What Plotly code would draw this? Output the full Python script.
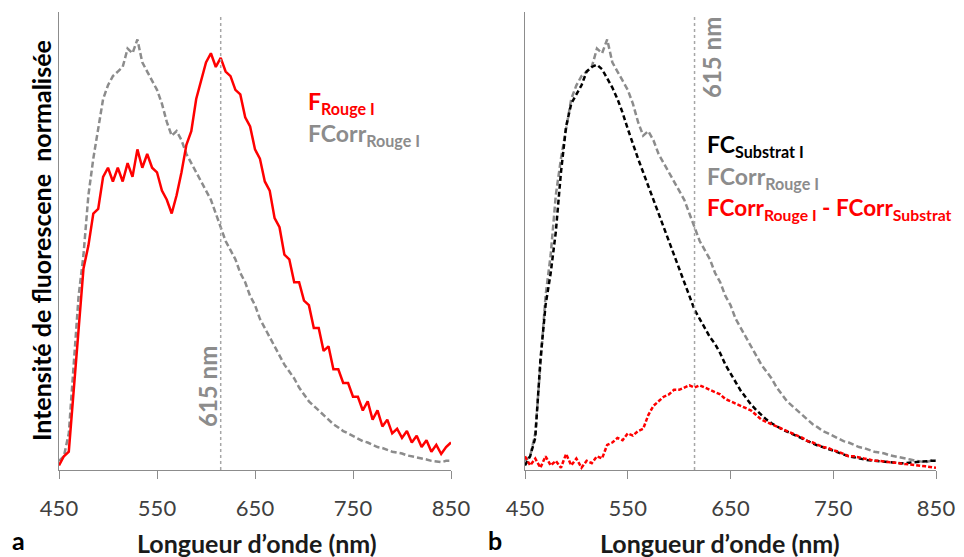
import plotly.graph_objects as go
from plotly.subplots import make_subplots

# ---------------- data ----------------
WAVELENGTH = list(range(450, 851, 5))  # nm

# Panel a
F_ROUGE_I = [1, 3, 4, 17, 31, 44, 49, 56, 57, 64, 66, 63, 66, 63, 67, 64, 70, 66, 69, 66,
             65, 61, 59, 56, 60, 65, 71, 74, 81, 85, 89, 91, 88, 90, 87, 86, 83, 82, 77, 75,
             70, 68, 63, 61, 55, 53, 47, 46, 41, 41, 37, 36, 31, 31, 26, 27, 22, 22, 19, 19,
             16, 16, 13, 15, 11, 13, 9.5, 11, 8, 9, 7, 8.5, 6, 7.5, 5, 6.5, 4, 5.5, 3.5, 5, 6]

FCORR_ROUGE_I = [2, 3, 8, 22, 38, 47, 60, 68, 75, 81, 84, 86, 87, 88, 92, 91, 94, 89, 87, 85,
                 83, 80, 76, 73, 74, 72, 69, 67, 65, 63, 61, 59, 56, 53, 50, 48, 46, 43, 41, 38,
                 36, 33, 31, 29, 27, 25, 23, 21.5, 20, 18, 16.5, 15, 14, 13, 12, 11, 10, 9.3, 8.5, 8,
                 7.4, 6.8, 6.3, 6, 5.5, 5, 4.8, 4.4, 4, 3.8, 3.6, 3.2, 3, 2.8, 2.6, 2.3, 2, 1.9, 1.7, 2, 2]

# Panel b
FC_SUBSTRAT_I = [1, 3, 7, 24, 36, 43, 52, 65, 75, 80, 82, 84, 87, 88, 88.5, 87.5, 85.5, 83.5, 81, 78,
                 74.5, 71, 68, 65, 62, 59, 56, 53, 50, 47, 44, 41, 38, 35, 33, 31, 29, 27.5, 25.5, 23,
                 21, 19, 17.3, 15.8, 14.3, 13.1, 12, 11, 10.2, 9.5, 8.9, 8.4, 7.9, 7.4, 6.9, 6.3, 5.8, 5.3, 5, 4.6,
                 4.2, 3.8, 3.4, 3, 2.8, 2.5, 2.3, 2.1, 2, 1.8, 1.7, 1.6, 1.5, 1.5, 1.5, 1.6, 1.8, 1.8, 2, 2, 2]

DIFF_ROUGE_SUBSTRAT = [3, 1, 2.5, 0.5, 3, 1, 2, 0.5, 3.5, 1, 2.5, 0.5, 2, 1.5, 3, 2.5, 5.5, 6, 7, 6.5,
                       8, 7.5, 8.5, 9, 12, 14, 15, 16, 16.5, 17.5, 17.5, 18, 18.5, 18, 18.5, 18, 17.5, 17, 16.5, 15.5,
                       15, 14.5, 14, 13.5, 13, 12, 11, 10.5, 10, 9.5, 9, 8.5, 8, 7.5, 7, 6.3, 6, 5.5, 5, 4.8,
                       4.3, 4, 3.5, 3, 3, 2.7, 2.5, 2.3, 2, 2, 1.8, 1.7, 1.6, 1.4, 1.3, 1.2, 1, 0.9, 0.8, 0.7, 0.5]

X_TICKS = [450, 550, 650, 750, 850]
MARKER_NM = 615

# ---------------- style ----------------
FONT = "Lato"
RED = "#FF0000"
GRAY = "#8C8C8C"
BLACK = "#000000"
AXIS = "#8C8C8C"
OFF = 8                      # page body margin
W, H = 964 - OFF, 557 - OFF  # figure size


def px(x):
    return (x - OFF) / W


def py(y):
    return (H - (y - OFF)) / H


fig = make_subplots(rows=1, cols=2)

fig.add_trace(go.Scatter(x=WAVELENGTH, y=FCORR_ROUGE_I, mode="lines",
                         line=dict(color=GRAY, width=2.5, dash="6px,3px")), row=1, col=1)
fig.add_trace(go.Scatter(x=WAVELENGTH, y=F_ROUGE_I, mode="lines",
                         line=dict(color=RED, width=2.5)), row=1, col=1)

fig.add_trace(go.Scatter(x=WAVELENGTH, y=FCORR_ROUGE_I, mode="lines",
                         line=dict(color=GRAY, width=2.5, dash="6px,3px")), row=1, col=2)
fig.add_trace(go.Scatter(x=WAVELENGTH, y=FC_SUBSTRAT_I, mode="lines",
                         line=dict(color=BLACK, width=2.5, dash="5px,3px")), row=1, col=2)
fig.add_trace(go.Scatter(x=WAVELENGTH, y=DIFF_ROUGE_SUBSTRAT, mode="lines",
                         line=dict(color=RED, width=2.5, dash="4px,2px")), row=1, col=2)

y_dom = [py(470), py(12)]
xa = dict(range=[450, 850], tickvals=X_TICKS, ticktext=[str(v) for v in X_TICKS],
          showline=True, linecolor=AXIS, linewidth=1.3, ticks="outside", ticklen=8,
          tickcolor=AXIS, showgrid=False, zeroline=False, automargin=False,
          tickfont=dict(family=FONT, size=22, color="#404040"), ticklabelstandoff=10)
ya = dict(range=[0, 100], showline=True, linecolor=AXIS, linewidth=1.3, showticklabels=False,
          ticks="", showgrid=False, zeroline=False, domain=y_dom, automargin=False)

fig.update_layout(
    width=W, height=H, margin=dict(l=0, r=0, t=0, b=0, autoexpand=False),
    paper_bgcolor="white", plot_bgcolor="white", showlegend=False,
    xaxis=dict(xa, domain=[px(59), px(451)]),
    xaxis2=dict(xa, domain=[px(525), px(936)]),
    yaxis=ya, yaxis2=dict(ya),
)

for xr, yr in (("x", "y domain"), ("x2", "y2 domain")):
    fig.add_shape(type="line", xref=xr, yref=yr, x0=MARKER_NM, x1=MARKER_NM, y0=0, y1=0.99,
                  line=dict(color="#A6A6A6", width=1.5, dash="dot"))

ann = []


def text(x, y, t, size, color, angle=0, anchor="center"):
    ann.append(dict(x=px(x), y=py(y), xref="paper", yref="paper", text=t, showarrow=False,
                    textangle=angle, xanchor=anchor, yanchor="middle",
                    font=dict(family=FONT, size=size, color=color)))


text(41, 241, "<b>Intensité de fluorescene  normalisée</b>", 25, BLACK, angle=-90)
text(257, 543, "<b>Longueur d’onde (nm)</b>", 25, "#1a1a1a")
text(720, 543, "<b>Longueur d’onde (nm)</b>", 25, "#1a1a1a")
text(18, 540, "<b>a</b>", 25, BLACK)
text(495, 540, "<b>b</b>", 25, BLACK)
text(207, 387, "<b>615 nm</b>", 24, GRAY, angle=-90)
text(712, 58, "<b>615 nm</b>", 24, GRAY, angle=-90)

text(306, 102, "<b>F<sub>Rouge I</sub></b>", 23, RED, anchor="left")
text(306, 134, "<b>FCorr<sub>Rouge I</sub></b>", 23, GRAY, anchor="left")
text(705, 145, "<b>FC<sub>Substrat I</sub></b>", 23, BLACK, anchor="left")
text(705, 177, "<b>FCorr<sub>Rouge I</sub></b>", 23, GRAY, anchor="left")
text(705, 209, "<b>FCorr<sub>Rouge I</sub> - FCorr<sub>Substrat</sub></b>", 22.5, RED, anchor="left")

fig.update_layout(annotations=ann)
fig.write_html("out.html")
